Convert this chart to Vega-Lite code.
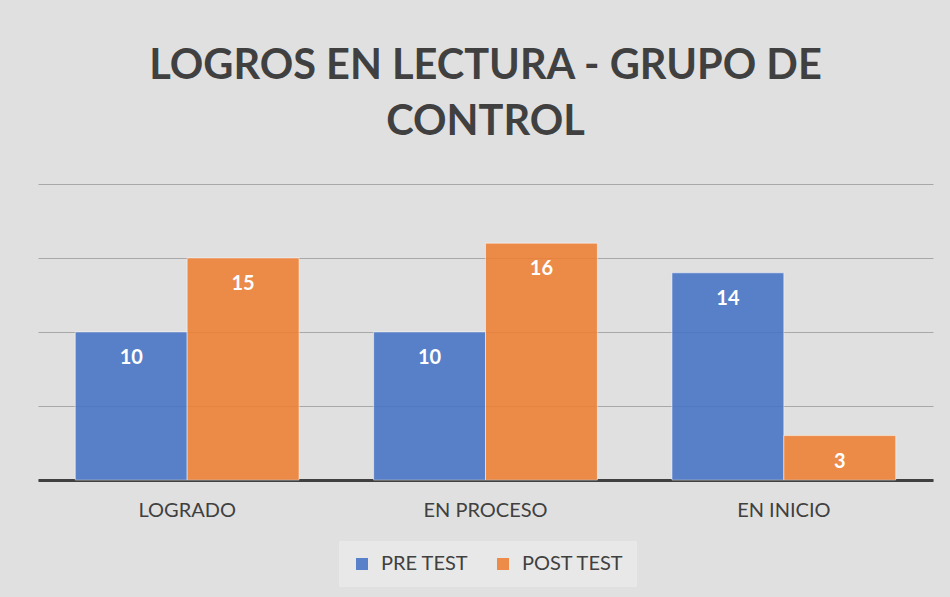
{
  "$schema": "https://vega.github.io/schema/vega-lite/v6.json",
  "width": 895,
  "height": 296,
  "autosize": {"type": "none"},
  "padding": {"left": 38, "top": 184, "right": 17, "bottom": 117},
  "background": "#e0e0e0",
  "title": {
    "text": ["LOGROS EN LECTURA - GRUPO DE", "CONTROL"],
    "font": "Lato",
    "fontSize": 41.5,
    "fontWeight": "bold",
    "color": "#404040",
    "anchor": "middle",
    "offset": 41,
    "lineHeight": 56
  },
  "data": {
    "values": [
      {"categoria": "LOGRADO", "prueba": "PRE TEST", "valor": 10},
      {"categoria": "LOGRADO", "prueba": "POST TEST", "valor": 15},
      {"categoria": "EN PROCESO", "prueba": "PRE TEST", "valor": 10},
      {"categoria": "EN PROCESO", "prueba": "POST TEST", "valor": 16},
      {"categoria": "EN INICIO", "prueba": "PRE TEST", "valor": 14},
      {"categoria": "EN INICIO", "prueba": "POST TEST", "valor": 3}
    ]
  },
  "encoding": {
    "x": {
      "field": "categoria",
      "type": "nominal",
      "sort": ["LOGRADO", "EN PROCESO", "EN INICIO"],
      "scale": {"paddingInner": 0.25, "paddingOuter": 0.125},
      "axis": {
        "title": null,
        "labelAngle": 0,
        "labelFont": "Lato",
        "labelFontSize": 20,
        "labelColor": "#404040",
        "labelPadding": 20,
        "ticks": false,
        "domainColor": "#404040",
        "domainWidth": 3,
        "grid": false
      }
    },
    "xOffset": {
      "field": "prueba",
      "type": "nominal",
      "sort": ["PRE TEST", "POST TEST"],
      "scale": {"paddingInner": 0, "paddingOuter": 0}
    },
    "y": {
      "field": "valor",
      "type": "quantitative",
      "scale": {"domain": [0, 20], "nice": false},
      "axis": {
        "title": null,
        "labels": false,
        "ticks": false,
        "domain": false,
        "values": [0, 5, 10, 15, 20],
        "gridColor": "#a8a8a8",
        "gridWidth": 1
      }
    }
  },
  "layer": [
    {
      "mark": {"type": "bar", "fillOpacity": 0.88, "stroke": "#ffffff", "strokeOpacity": 0.5, "strokeWidth": 1},
      "encoding": {
        "color": {
          "field": "prueba",
          "type": "nominal",
          "sort": ["PRE TEST", "POST TEST"],
          "scale": {"domain": ["PRE TEST", "POST TEST"], "range": ["#4472C4", "#ED7D31"]},
          "legend": {
            "title": null,
            "orient": "none",
            "legendX": 301,
            "legendY": 357,
            "direction": "horizontal",
            "symbolType": "square",
            "symbolSize": 144,
            "symbolOpacity": 0.88,
            "symbolStrokeWidth": 0,
            "labelFont": "Lato",
            "labelFontSize": 20,
            "labelColor": "#404040",
            "labelOffset": 9,
            "columnPadding": 24,
            "fillColor": "#e8e8e8",
            "padding": 13
          }
        }
      }
    },
    {
      "mark": {"type": "text", "color": "#ffffff", "font": "Lato", "fontWeight": "bold", "fontSize": 20, "baseline": "middle", "dy": 26},
      "encoding": {
        "text": {"field": "valor", "type": "quantitative"}
      }
    }
  ],
  "config": {"view": {"stroke": null}}
}
